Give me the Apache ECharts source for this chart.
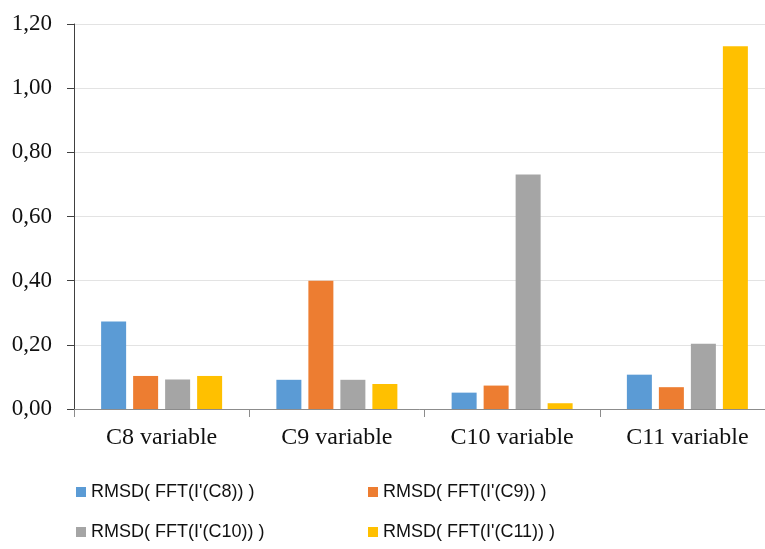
<!DOCTYPE html>
<html>
<head>
<meta charset="utf-8">
<script src="https://cdn.jsdelivr.net/npm/echarts@6/dist/echarts.min.js"></script>
<style>
  html, body { margin: 0; padding: 0; background: #fff; }
  #chart { width: 765px; height: 549px; }
</style>
</head>
<body>
<div id="chart"></div>
<script>
// categories
const categories = ['C8 variable', 'C9 variable', 'C10 variable', 'C11 variable'];
// series names
const seriesNames = ["RMSD( FFT(I'(C8)) )", "RMSD( FFT(I'(C9)) )", "RMSD( FFT(I'(C10)) )", "RMSD( FFT(I'(C11)) )"];
// values
const rmsdC8 = [0.273, 0.091, 0.051, 0.107];
const rmsdC9 = [0.103, 0.400, 0.073, 0.068];
const rmsdC10 = [0.092, 0.091, 0.731, 0.203];
const rmsdC11 = [0.103, 0.078, 0.018, 1.131];
const colors = ['#5B9BD5', '#ED7D31', '#A5A5A5', '#FFC000'];

const myChart = echarts.init(document.getElementById('chart'));

const legendText = {
    fontFamily: '"Liberation Sans Narrow", "Liberation Sans", Arial',
    fontSize: 18,
    color: '#111'
};

let option = {
    animation: false,
    color: colors,
    grid: {
        left: 74,
        top: 24,
        width: 701,
        bottom: 140,
        outerBoundsMode: 'none'
    },
    legend: [{
        orient: 'vertical',
        left: 71,
        top: 478,
        itemWidth: 10,
        itemHeight: 10,
        itemGap: 22,
        icon: 'rect',
        textStyle: legendText,
        data: [seriesNames[0], seriesNames[2]]
    }, {
        orient: 'vertical',
        left: 363,
        top: 478,
        itemWidth: 10,
        itemHeight: 10,
        itemGap: 22,
        icon: 'rect',
        textStyle: legendText,
        data: [seriesNames[1], seriesNames[3]]
    }],
    xAxis: {
        type: 'category',
        data: categories,
        axisLine: { lineStyle: { color: '#8c8c8c', width: 1 } },
        axisTick: { show: true, length: 8, lineStyle: { color: '#8c8c8c' } },
        axisLabel: {
            margin: 17,
            fontFamily: '"Liberation Serif", "Times New Roman", serif',
            fontSize: 24,
            color: '#111'
        }
    },
    yAxis: {
        type: 'value',
        min: 0,
        max: 1.2,
        interval: 0.2,
        axisLine: { show: true, lineStyle: { color: '#404040', width: 1 } },
        axisTick: { show: true, length: 7, lineStyle: { color: '#404040' } },
        splitLine: { lineStyle: { color: '#e3e3e3', width: 1 } },
        axisLabel: {
            margin: 22,
            fontFamily: '"Liberation Serif", "Times New Roman", serif',
            fontSize: 23,
            color: '#111',
            formatter: function (value) {
                return value.toFixed(2).replace('.', ',');
            }
        }
    },
    series: [
        { name: seriesNames[0], type: 'bar', data: rmsdC8, barWidth: 25, barGap: '28%' },
        { name: seriesNames[1], type: 'bar', data: rmsdC9, barWidth: 25, barGap: '28%' },
        { name: seriesNames[2], type: 'bar', data: rmsdC10, barWidth: 25, barGap: '28%' },
        { name: seriesNames[3], type: 'bar', data: rmsdC11, barWidth: 25, barGap: '28%' }
    ]
};
myChart.setOption(option);
</script>
</body>
</html>
